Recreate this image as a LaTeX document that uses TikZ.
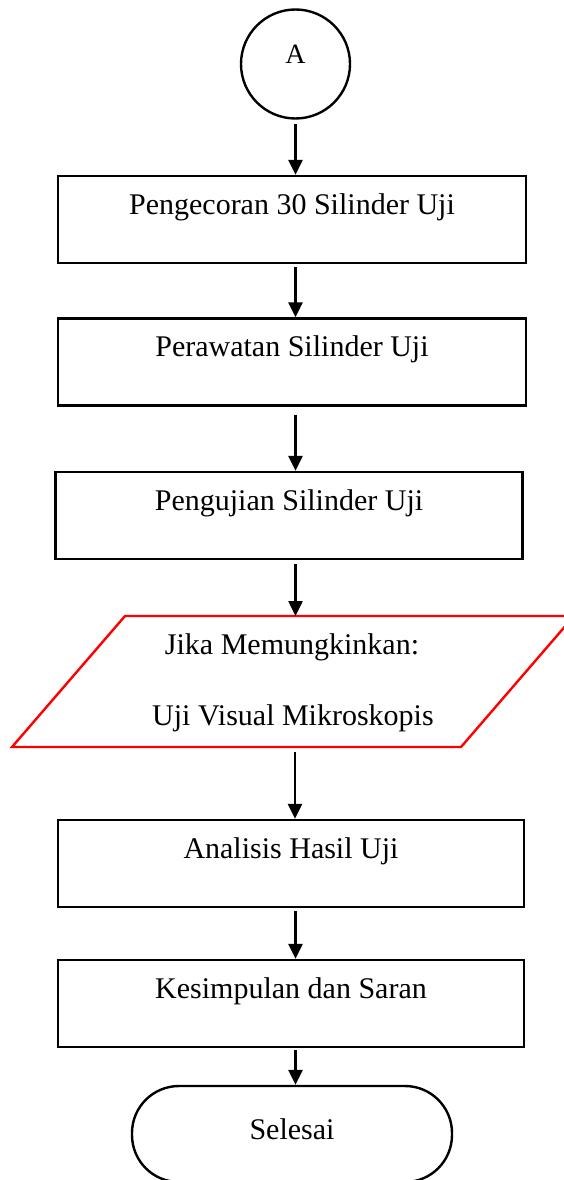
\documentclass[tikz,border=0pt]{standalone}
\usepackage{fontspec}
\setmainfont{Liberation Serif}
\usetikzlibrary{arrows.meta,calc}
\begin{document}
\begin{tikzpicture}[x=1pt,y=-1pt,
  txt/.style={font=\fontsize{30}{36}\selectfont},
  box/.style={txt, draw, line width=2.4pt, rectangle, minimum width=468pt, minimum height=87pt, inner sep=0pt, text height=38pt, text depth=49pt},
  arr/.style={line width=2.5pt, -{Triangle[width=14pt,length=15pt]}},
  lbl/.style={txt, inner sep=0pt, anchor=base}]
\useasboundingbox (0,0) rectangle (564,1180);
\clip (0,0) rectangle (564,1180);
\node[draw, circle, line width=2.4pt, minimum size=109pt, inner sep=0pt, text height=21pt, text depth=21pt, font=\fontsize{28}{33}\selectfont] (A) at (295.5,64) {A};
\node[box] (b1) at (292,219.5) {Pengecoran 30 Silinder Uji};
\node[box] (b2) at (292,362) {Perawatan Silinder Uji};
\node[box, minimum width=467pt] (b3) at (289,515.5) {Pengujian Silinder Uji};
\draw[red, line width=2.4pt] (12,747) -- (125,616) -- (574,616) -- (461,747) -- cycle;
\coordinate (pt) at (295.5,616);
\coordinate (pb) at (295,747);
\node[lbl] (p1) at (292,654) {Jika Memungkinkan:};
\node[lbl] (p2) at (293,725) {Uji Visual Mikroskopis};
\node[box, minimum width=466pt] (b4) at (291,863.5) {Analisis Hasil Uji};
\node[box, minimum width=466pt] (b5) at (291,1003.5) {Kesimpulan dan Saran};
\node[txt, draw, line width=2.4pt, rounded corners=47pt, minimum width=320pt, minimum height=96pt, inner sep=0pt, text height=53pt, text depth=43pt] (end) at (292,1134) {Selesai};
\draw[arr] ($(A.south)+(0,4)$) -- (A.south |- b1.north);
\draw[arr] ($(A.south |- b1.south)+(0,3)$) -- (A.south |- b2.north);
\draw[arr] ($(A.south |- b2.south)+(0,8)$) -- (A.south |- b3.north);
\draw[arr] ($(A.south |- b3.south)+(0,4)$) -- (pt);
\draw[arr] ($(pb)+(0,5)$) -- (pb |- b4.north);
\draw[arr] ($(A.south |- b4.south)+(0,3)$) -- (A.south |- b5.north);
\draw[arr] ($(A.south |- b5.south)+(0,2)$) -- (A.south |- end.north);
\end{tikzpicture}
\end{document}
